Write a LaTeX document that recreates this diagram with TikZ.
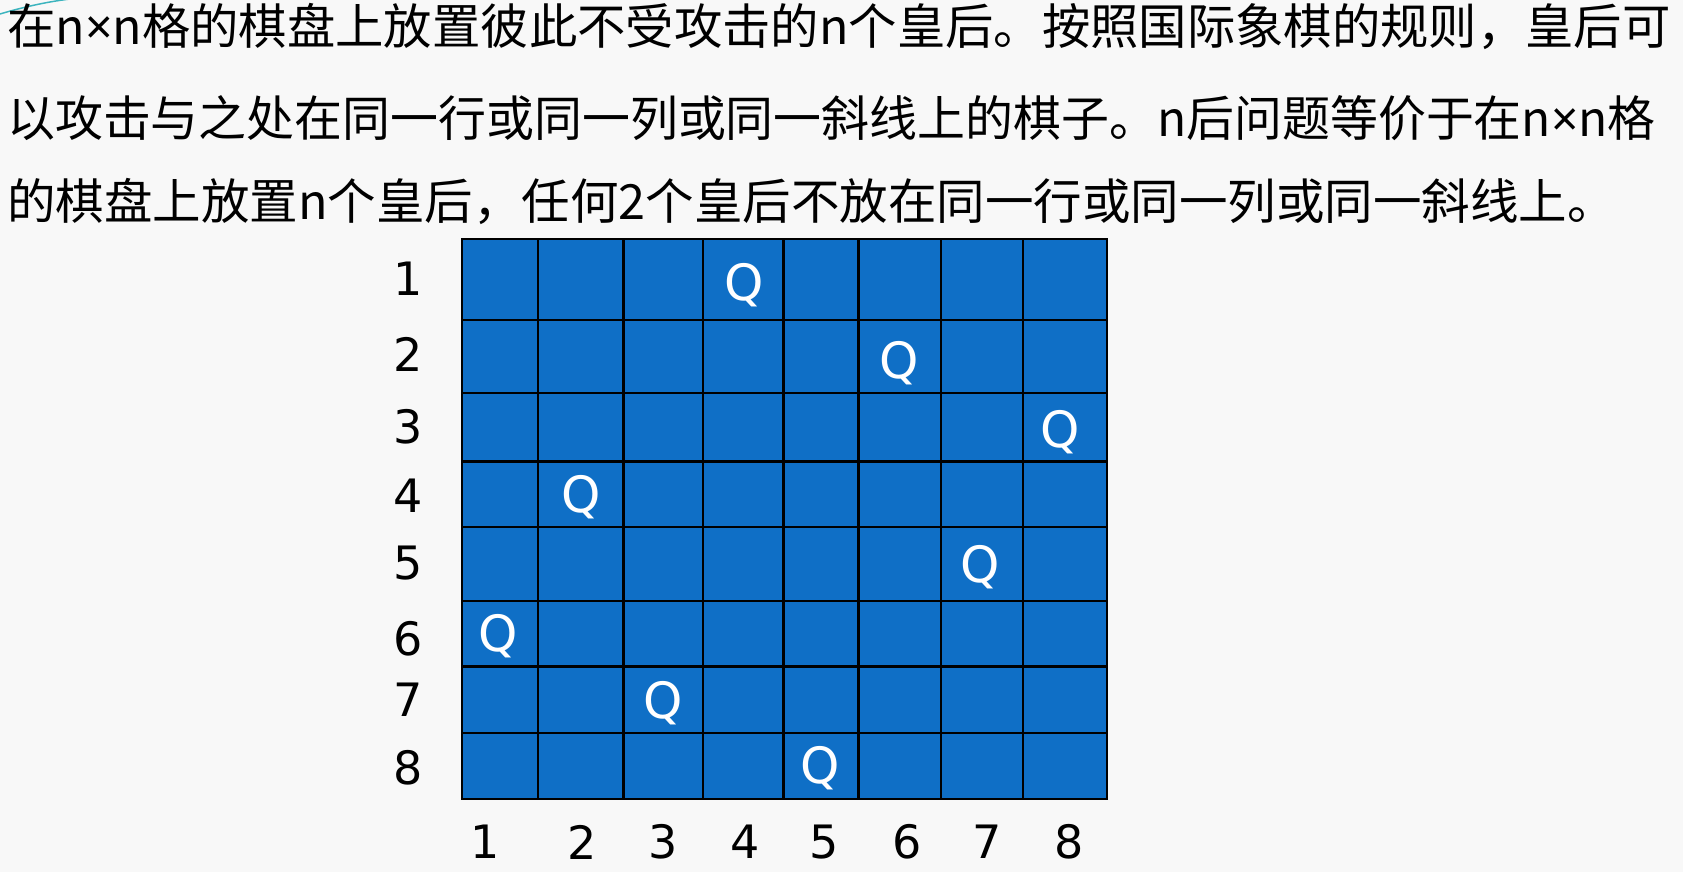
\documentclass[tikz,border=0pt]{standalone}
\usepackage{fontspec}
\setmainfont{DejaVu Sans}
\newfontfamily\cjk{Noto Sans CJK SC}
\newfontfamily\xfont{Noto Sans}
\newcommand\tms{{\xfont ×}}
\definecolor{board}{RGB}{15,111,198}
\definecolor{bgc}{RGB}{248,248,248}
\definecolor{accentc}{RGB}{60,180,190}
\begin{document}
\begin{tikzpicture}[x=1pt,y=-1pt,
  txt/.style={anchor=base west,inner sep=0pt,font=\cjk\fontsize{48.5}{50}\selectfont},
  lbl/.style={inner sep=0pt,font=\fontsize{46}{50}\selectfont},
  queen/.style={inner sep=0pt,text=white,font=\fontsize{50}{50}\selectfont},
  gridline/.style={line width=2.6pt,black}]
\useasboundingbox[fill=bgc] (0,0) rectangle (1683,872);
\draw[accentc,line width=1.5pt] (0,14) .. controls (20,8) and (45,2) .. (70,-1);
% text
\node[txt] (t1) at (7,45) {\scalebox{0.997}[1]{在n\tms n格的棋盘上放置彼此不受攻击的n个皇后。按照国际象棋的规则，皇后可}};
\node[txt] (t2) at (7,136) {\scalebox{0.988}[1]{以攻击与之处在同一行或同一列或同一斜线上的棋子。n后问题等价于在n\tms n格}};
\node[txt] (t3) at (7,219) {的棋盘上放置n个皇后，任何2个皇后不放在同一行或同一列或同一斜线上。};
% board
\fill[board] (462,239) rectangle (1107,799);
\foreach \x in {538,623.5,703,783.5,858.6,941,1023}
  \draw[gridline] (\x,239) -- (\x,799);
\foreach \y in {320,393,461.5,527,601,666.5,733}
  \draw[gridline] (462,\y) -- (1107,\y);
\draw[gridline] (462,239) rectangle (1107,799);
% row labels
\foreach \n/\y in {1/279,2/354,3/427,4/496,5/563,6/639,7/700,8/768}
  \node[lbl] (r\n) at (408,\y) {\n};
% column labels
\foreach \n/\x in {1/485,2/582,3/663,4/745,5/824,6/907,7/987,8/1069}
  \node[lbl] (c\n) at (\x,842) {\n};
% queens
\foreach \n/\x/\y in {1/744/285,2/899/363,3/1060/432,4/581/497,5/980/567,6/498/636,7/663/703,8/820/768}
  \node[queen] (q\n) at (\x,\y) {Q};
\end{tikzpicture}
\end{document}
